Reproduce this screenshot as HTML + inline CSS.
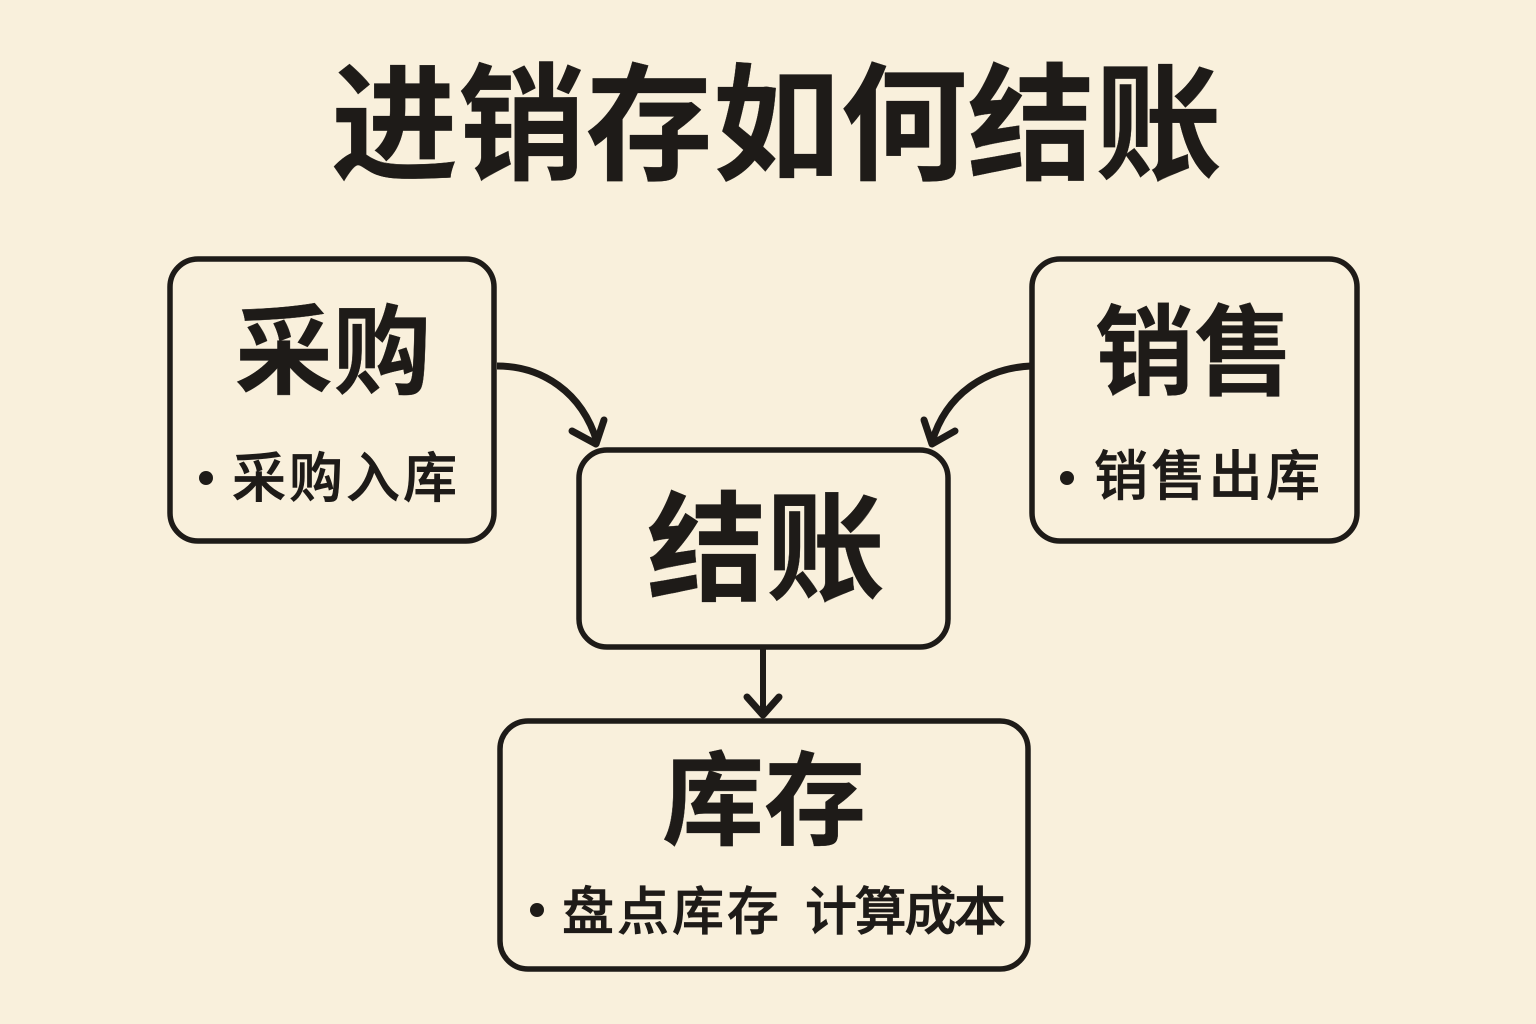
<!DOCTYPE html>
<html><head><meta charset="utf-8"><style>
html,body{margin:0;padding:0;background:#f9f0dc}
svg{display:block}
text{font-family:"Liberation Sans","Noto Sans CJK SC",sans-serif;fill:#1e1b18;stroke:#1e1b18}
.b{font-weight:700;stroke-width:0.3}
.m{font-weight:500;stroke-width:0.7}
</style></head><body>
<svg width="1536" height="1024" viewBox="0 0 1536 1024" xmlns="http://www.w3.org/2000/svg">
<rect width="1536" height="1024" fill="#f9f0dc"/>
<text class="b" x="331" y="170" font-size="127" textLength="891" lengthAdjust="spacing">进销存如何结账</text>
<g fill="none" stroke="#1e1b18" stroke-width="5.5">
<rect x="170" y="259" width="324" height="282" rx="28"/>
<rect x="1032" y="259" width="325" height="282" rx="28"/>
<rect x="579" y="450" width="369" height="197" rx="28"/>
<rect x="500" y="721" width="528" height="248" rx="28"/>
</g>
<g fill="none" stroke="#1e1b18" stroke-width="7" stroke-linecap="round" stroke-linejoin="round">
<path d="M497 366C542 366 582 392 597 442" stroke-linecap="butt"/>
<path d="M572 431L596 444L604 420"/>
<path d="M1031 366C986 368 946 394 932 442" stroke-linecap="butt"/>
<path d="M924 420L932 444L955 431"/>
<path d="M763 649V715" stroke-linecap="butt" stroke-width="6"/>
<path d="M747 697L763 715L779 697"/>
</g>
<text class="b" x="333" y="386" font-size="98" text-anchor="middle">采购</text>
<text class="b" x="1194" y="387" font-size="99" text-anchor="middle">销售</text>
<text class="b" x="766" y="591" font-size="119" text-anchor="middle">结账</text>
<text class="b" x="764" y="837" font-size="102" text-anchor="middle">库存</text>
<circle cx="206" cy="478" r="7" fill="#1e1b18"/>
<circle cx="1067" cy="478" r="7" fill="#1e1b18"/>
<circle cx="537" cy="910" r="7" fill="#1e1b18"/>
<text class="m" x="232" y="497" font-size="54" textLength="225" lengthAdjust="spacing">采购入库</text>
<text class="m" x="1094" y="495" font-size="54" textLength="226" lengthAdjust="spacing">销售出库</text>
<text class="m" x="562" y="930" font-size="52" textLength="217" lengthAdjust="spacing">盘点库存</text>
<text class="m" x="805" y="930" font-size="52" textLength="201" lengthAdjust="spacing">计算成本</text>
</svg>
</body></html>
